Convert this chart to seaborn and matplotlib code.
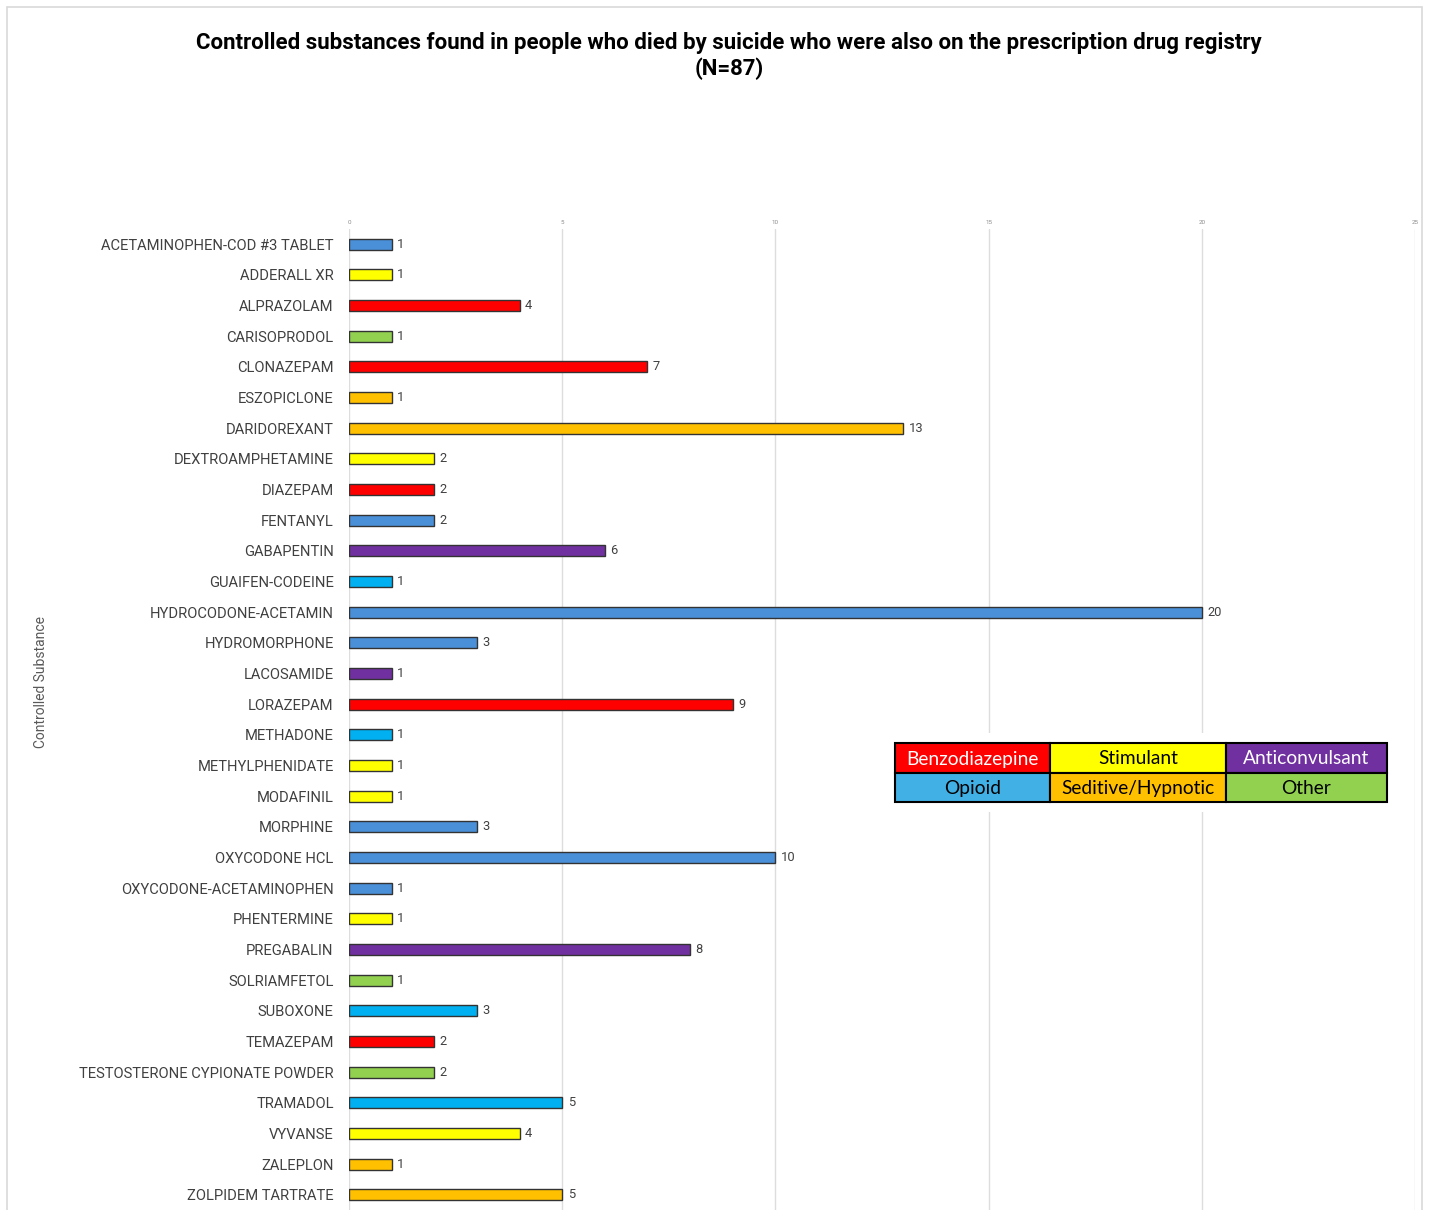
import matplotlib
matplotlib.use("Agg")
import matplotlib.pyplot as plt
from matplotlib.patches import Rectangle
import seaborn as sns
import pandas as pd

# ---------------- data ----------------
drugs = [
    "ACETAMINOPHEN-COD #3 TABLET", "ADDERALL XR", "ALPRAZOLAM", "CARISOPRODOL",
    "CLONAZEPAM", "ESZOPICLONE", "DARIDOREXANT", "DEXTROAMPHETAMINE", "DIAZEPAM",
    "FENTANYL", "GABAPENTIN", "GUAIFEN-CODEINE", "HYDROCODONE-ACETAMIN",
    "HYDROMORPHONE", "LACOSAMIDE", "LORAZEPAM", "METHADONE", "METHYLPHENIDATE",
    "MODAFINIL", "MORPHINE", "OXYCODONE HCL", "OXYCODONE-ACETAMINOPHEN",
    "PHENTERMINE", "PREGABALIN", "SOLRIAMFETOL", "SUBOXONE", "TEMAZEPAM",
    "TESTOSTERONE CYPIONATE POWDER", "TRAMADOL", "VYVANSE", "ZALEPLON",
    "ZOLPIDEM TARTRATE",
]
counts = [1, 1, 4, 1, 7, 1, 13, 2, 2, 2, 6, 1, 20, 3, 1, 9, 1, 1, 1, 3, 10, 1,
          1, 8, 1, 3, 2, 2, 5, 4, 1, 5]
# colour group of each bar (opioids appear in two shades in the source)
groups = ["OpioidB", "Stim", "Benzo", "Other", "Benzo", "Sed", "Sed", "Stim",
          "Benzo", "OpioidB", "Anti", "OpioidC", "OpioidB", "OpioidB", "Anti",
          "Benzo", "OpioidC", "Stim", "Stim", "OpioidB", "OpioidB", "OpioidB",
          "Stim", "Anti", "Other", "OpioidC", "Benzo", "Other", "OpioidC",
          "Stim", "Sed", "Sed"]
legend_labels = [["Benzodiazepine", "Stimulant", "Anticonvulsant"],
                 ["Opioid", "Seditive/Hypnotic", "Other"]]
title_text = ("Controlled substances found in people who died by suicide who were "
              "also on the prescription drug registry\n(N=87)")

# ---------------- styles ----------------
group_colors = {
    "Benzo": "#FF0000", "Stim": "#FFFF00", "Anti": "#7030A0", "Other": "#92D050",
    "Sed": "#FFC000", "OpioidB": "#4A90D9", "OpioidC": "#00B0F0",
}
legend_colors = [["#FF0000", "#FFFF00", "#7030A0"],
                 ["#41B0E4", "#FFC000", "#92D050"]]
legend_text_colors = [["white", "black", "white"], ["black", "black", "black"]]

W, H = 1429, 1210
sns.set_theme(style="white")
plt.rcParams["font.family"] = ["Roboto", "DejaVu Sans"]

df = pd.DataFrame({"drug": drugs, "count": counts, "group": groups})

fig = plt.figure(figsize=(W / 100, H / 100), dpi=100)
fig.patch.set_facecolor("white")

def fx(x):
    return x / W

def fy(y):
    return 1 - y / H

ax_left, ax_right = 349, 1415
ax_top, ax_bottom = 228.7, 1210.3
ax = fig.add_axes([fx(ax_left), fy(ax_bottom), fx(ax_right - ax_left),
                   (ax_bottom - ax_top) / H])

sns.barplot(data=df, y="drug", x="count", hue="group", palette=group_colors,
            orient="h", dodge=False, legend=False, width=0.36, saturation=1,
            edgecolor="#333333", linewidth=1.0, ax=ax, zorder=3)

ax.set_xlim(0, 25)
ax.set_ylim(len(drugs) - 0.5, -0.5)
ax.set_xticks([0, 5, 10, 15, 20, 25])
ax.xaxis.tick_top()
ax.tick_params(axis="x", labelsize=4.5, colors="#8C8C8C", length=0, pad=3)
ax.tick_params(axis="y", labelsize=10.6, labelcolor="#404040", length=0, pad=11)
ax.grid(axis="x", color="#DDDDDD", linewidth=1.0, zorder=0)
ax.grid(axis="y", visible=False)
for s in ax.spines.values():
    s.set_visible(False)
ax.set_xlabel("")
ax.set_ylabel("")

for cont in ax.containers:
    ax.bar_label(cont, padding=4, fontsize=9.3, color="#404040")

fig.text(fx(41), fy(682), "Controlled Substance", rotation=90, ha="center",
         va="center", fontsize=10, color="#595959")

fig.text(fx(729), fy(56.5), title_text, ha="center", va="center",
         fontsize=16, fontweight="bold", color="black", linespacing=1.2)

# outer chart border
fig.add_artist(Rectangle((fx(7), fy(1260)), fx(1422 - 7), (1260 - 7) / H,
                         transform=fig.transFigure, fill=False,
                         edgecolor="#D9D9D9", linewidth=1.2, clip_on=False))

# legend table
fig.add_artist(Rectangle((fx(883), fy(812)), fx(1400 - 883), (812 - 733) / H,
                         transform=fig.transFigure, facecolor="white",
                         edgecolor="none", zorder=4))
col_edges = [895, 1050, 1226, 1387]
row_edges = [743, 773, 802]
for r in range(2):
    for c in range(3):
        x0, x1 = col_edges[c], col_edges[c + 1]
        y0, y1 = row_edges[r], row_edges[r + 1]
        fig.add_artist(Rectangle((fx(x0), fy(y1)), fx(x1 - x0), (y1 - y0) / H,
                                 transform=fig.transFigure,
                                 facecolor=legend_colors[r][c],
                                 edgecolor="black", linewidth=1.5, zorder=5))
        fig.text(fx((x0 + x1) / 2), fy((y0 + y1) / 2 + 1), legend_labels[r][c],
                 ha="center", va="center", fontsize=13.8,
                 color=legend_text_colors[r][c], family=["Lato", "DejaVu Sans"],
                 zorder=6)

fig.savefig("out.png", dpi=100)
